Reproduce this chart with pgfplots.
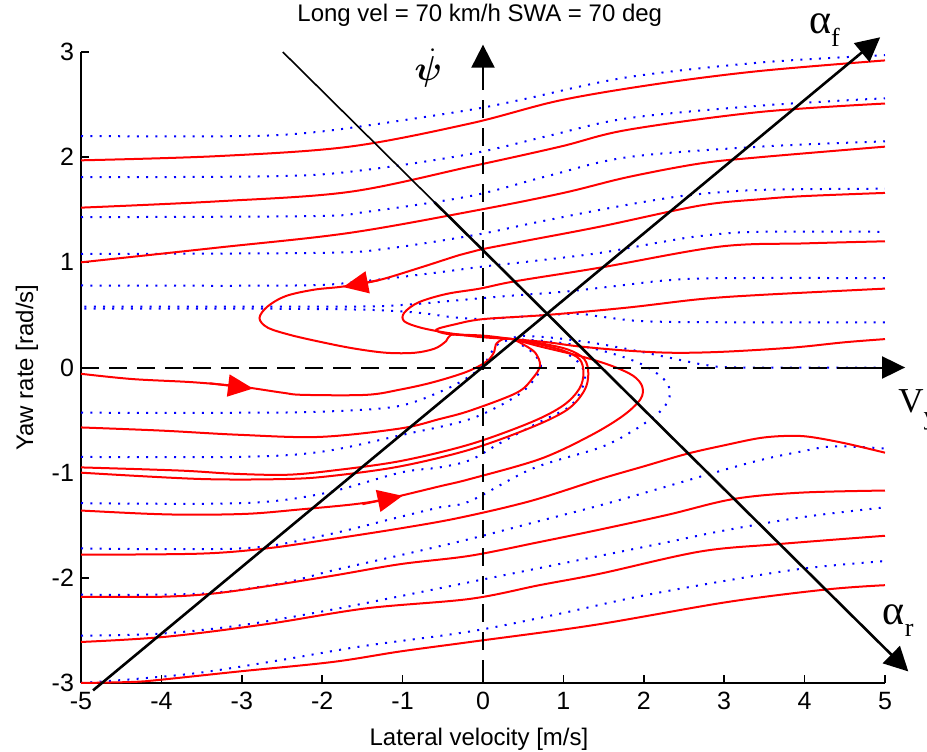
\documentclass[border=0pt]{standalone}
\usepackage{pgfplots}
\pgfplotsset{compat=1.18}
\usetikzlibrary{arrows.meta}
\usepackage{bm}
\usepackage{fontspec}
\setmainfont{Liberation Sans}
\newfontfamily\symfont{Liberation Serif}

% red: nonlinear model trajectories, blue dotted: reference model trajectories
\pgfplotsset{
  fwd/.style={red, line width=1pt, smooth, tension=0.55},
  bwd/.style={blue, line width=1pt, dash pattern=on 1pt off 3.65pt, smooth, tension=0.55},
  flowarrow/.style={red, line width=1pt, -{Triangle[length=12.5pt,width=11pt]}},
  bigarrow/.style={black, line width=1.3pt, -{Triangle[length=12pt,width=12pt]}},
}

\begin{document}
\begin{tikzpicture}
\begin{axis}[
  name=ax, at={(0,0)}, anchor=south west,
  scale only axis, width=402pt, height=315.5pt,
  xmin=-5, xmax=5, ymin=-3, ymax=3,
  axis lines*=left,
  axis line style={line width=0.75pt},
  xtick={-5,-4,...,5}, ytick={-3,-2,...,3},
  tick align=inside, major tick length=4pt,
  tick style={black, line width=0.75pt},
  /pgf/number format/assume math mode=true,
  ticklabel style={font=\fontsize{12.5}{14}\selectfont},
  xticklabel style={yshift=-1pt},
  title={Long vel = 70 km/h SWA = 70 deg},
  title style={at={(axis description cs:0.496,1.0301)}, anchor=base, inner sep=0pt, font=\fontsize{12}{14}\selectfont},
  xlabel={Lateral velocity [m/s]},
  xlabel style={at={(axis description cs:0.495,-0.0983)}, anchor=base, inner sep=0pt, font=\fontsize{12}{14}\selectfont},
  ylabel={Yaw rate [rad/s]},
  ylabel style={at={(axis description cs:-0.0597,0.5)}, anchor=base, inner sep=0pt, font=\fontsize{12}{14}\selectfont},
  clip=false,
]

% ---------------- blue dotted trajectories ----------------
\addplot[bwd] coordinates {(-5,2.2) (-3,2.2) (-2.2,2.23) (-1.45,2.3) (-0.16,2.45) (0.5,2.55) (1.8,2.76) (3.45,2.9) (5,2.97)};
\addplot[bwd] coordinates {(-5,1.81) (-2.5,1.82) (-1.45,1.88) (-0.16,2.03) (0.8,2.2) (1.8,2.37) (3.45,2.49) (5,2.56)};
\addplot[bwd] coordinates {(-5,1.43) (-2.1,1.44) (-1.45,1.48) (-0.16,1.63) (0.8,1.82) (1.8,2.0) (3.45,2.1) (5,2.15)};
\addplot[bwd] coordinates {(-5,1.08) (-2,1.09) (-1.2,1.13) (-0.1,1.26) (0.6,1.37) (1.46,1.5) (2.2,1.6) (2.7,1.65) (3.5,1.69) (5,1.7)};
\addplot[bwd] coordinates {(-5,0.78) (-2.3,0.78) (-1.5,0.82) (-0.6,0.9) (0,0.96) (0.6,1.01) (1.46,1.09) (2.2,1.19) (2.7,1.25) (3.4,1.29) (5,1.29)};
\addplot[bwd] coordinates {(5,0.85) (3,0.85) (2.3,0.83) (1.6,0.77) (1,0.72) (0.3,0.68) (-0.3,0.64) (-0.9,0.6) (-1.5,0.58) (-3,0.58) (-5,0.58)};
\addplot[bwd] coordinates {(5,0.43) (3,0.43) (2,0.44) (1.5,0.48) (1.2,0.51) (0.8,0.5) (0.4,0.48) (0,0.46) (-0.4,0.48) (-0.8,0.52) (-1.5,0.55) (-3,0.56) (-5,0.56)};
\addplot[bwd] coordinates {(5,0.0) (3.2,0.0) (2.8,0.02) (2.4,0.08) (1.9,0.16) (1.4,0.23) (0.9,0.28) (0.5,0.3) (0.37,0.28)};
\addplot[bwd] coordinates {(-5,-0.43) (-3,-0.43) (-2,-0.42) (-1.07,-0.37) (-0.5,-0.22) (-0.16,-0.08) (0.02,0.04) (0.1,0.14) (0.2,0.23) (0.37,0.27)};
\addplot[bwd] coordinates {(-5,-0.85) (-3,-0.85) (-2,-0.8) (-1,-0.64) (-0.16,-0.49) (0.42,-0.27) (0.65,-0.1) (0.72,0.02) (0.62,0.14) (0.45,0.23) (0.37,0.27)};
\addplot[bwd] coordinates {(-5,-1.29) (-3,-1.29) (-2,-1.2) (-1.03,-1.0) (-0.54,-0.95) (-0.16,-0.88) (0.21,-0.72) (0.7,-0.52) (1.08,-0.37) (1.23,-0.2) (1.27,-0.08) (1.2,0.04) (1.0,0.15) (0.7,0.23) (0.37,0.27)};
\addplot[bwd] coordinates {(-5,-1.72) (-3,-1.72) (-2,-1.6) (-1.03,-1.42) (-0.54,-1.33) (-0.16,-1.27) (0.62,-0.96) (1.46,-0.76) (1.87,-0.6) (2.12,-0.47) (2.24,-0.39) (2.32,-0.28) (2.3,-0.16) (2.17,-0.06) (1.95,0.04) (1.62,0.13) (1.25,0.2) (0.8,0.25) (0.37,0.27)};
\addplot[bwd] coordinates {(-5,-2.16) (-3.5,-2.15) (-2.5,-2.05) (-1.87,-1.93) (-1,-1.78) (-0.16,-1.63) (0.7,-1.46) (1.46,-1.31) (2.2,-1.15) (2.83,-1.01) (3.45,-0.88) (3.95,-0.8) (4.36,-0.75) (5,-0.77)};
\addplot[bwd] coordinates {(-5,-2.55) (-4,-2.53) (-3,-2.45) (-2,-2.32) (-1,-2.17) (-0.16,-2.04) (1.46,-1.79) (2.3,-1.66) (3,-1.55) (4,-1.42) (5,-1.33)};
\addplot[bwd] coordinates {(-5,-3.0) (-4.3,-2.96) (-3.5,-2.9) (-2.5,-2.78) (-1.5,-2.65) (-0.16,-2.51) (0.9,-2.35) (1.92,-2.18) (3,-2.03) (4,-1.91) (5,-1.84)};

% ---------------- red trajectories ----------------
% upper family, left to right
\addplot[fwd] coordinates {(-5,1.97) (-3.3,2.01) (-1.66,2.1) (-0.16,2.32) (0.96,2.54) (2.2,2.7) (3.45,2.82) (5,2.92)};
\addplot[fwd] coordinates {(-5,1.52) (-3.3,1.58) (-1.66,1.67) (-0.16,1.91) (0.96,2.1) (1.8,2.26) (3.45,2.43) (5,2.51)};
\addplot[fwd] coordinates {(-5,1.0) (-3.3,1.14) (-1.66,1.28) (-0.04,1.5) (1.0,1.66) (1.8,1.81) (2.7,1.94) (3.45,2.0) (5,2.1)};
% spiralling into the equilibrium
\addplot[fwd] coordinates {(5,1.66) (4,1.63) (3.45,1.6) (2.7,1.54) (1.46,1.34) (0.5,1.2) (-0.04,1.12) (-0.29,1.07) (-0.78,0.95) (-1.3,0.83) (-1.74,0.77) (-2.1,0.74) (-2.45,0.68) (-2.68,0.58) (-2.78,0.47) (-2.68,0.38) (-2.4,0.31) (-2.0,0.24) (-1.6,0.18) (-1.2,0.14) (-0.85,0.14) (-0.6,0.18) (-0.46,0.25) (-0.4,0.31) (-0.2,0.31) (0.05,0.3) (0.37,0.27)};
\addplot[fwd] coordinates {(5,1.2) (4,1.18) (2.95,1.15) (1.46,0.95) (0.4,0.82) (-0.04,0.75) (-0.45,0.7) (-0.8,0.62) (-0.98,0.52) (-0.98,0.44) (-0.78,0.38) (-0.45,0.33) (-0.04,0.29) (0.37,0.27)};
\addplot[fwd] coordinates {(5,0.75) (3.45,0.69) (2.7,0.65) (1.8,0.57) (0.8,0.5) (0,0.46) (-0.35,0.41) (-0.58,0.36) (-0.45,0.32) (-0.1,0.3) (0.37,0.27)};
\addplot[fwd] coordinates {(5,0.27) (4.5,0.24) (3.86,0.19) (3,0.15) (2.37,0.14) (1.8,0.16) (1.2,0.2) (0.8,0.24) (0.37,0.27)};
% lower family, left to right
\addplot[fwd] coordinates {(-5,-0.06) (-4.36,-0.11) (-3.61,-0.14) (-3.03,-0.18) (-2.49,-0.24) (-2.24,-0.26) (-1.45,-0.26) (-1.03,-0.21) (-0.62,-0.14) (-0.2,-0.04) (0.05,0.06) (0.14,0.15) (0.16,0.22) (0.25,0.27) (0.37,0.27)};
\addplot[fwd] coordinates {(-5,-0.57) (-4,-0.6) (-3.03,-0.64) (-2.03,-0.66) (-1.03,-0.58) (-0.54,-0.49) (-0.16,-0.41) (0.42,-0.24) (0.62,-0.1) (0.71,0.02) (0.65,0.14) (0.5,0.22) (0.37,0.27)};
\addplot[fwd] coordinates {(-5,-0.95) (-3.77,-0.98) (-3.11,-1.01) (-2.44,-1.02) (-1.87,-0.98) (-1.03,-0.89) (-0.16,-0.73) (0.6,-0.52) (1.0,-0.36) (1.2,-0.2) (1.25,-0.05) (1.2,0.08) (1.0,0.16) (0.7,0.22) (0.37,0.27)};
\addplot[fwd] coordinates {(-5,-1.0) (-3.52,-1.06) (-2.44,-1.06) (-1.87,-1.03) (-1.03,-0.94) (-0.16,-0.78) (0.6,-0.57) (1.05,-0.4) (1.26,-0.22) (1.31,-0.06) (1.26,0.08) (1.06,0.17) (0.72,0.23) (0.37,0.27)};
\addplot[fwd] coordinates {(-5,-1.36) (-4.2,-1.39) (-3.61,-1.4) (-2.9,-1.39) (-2.28,-1.35) (-1.6,-1.3) (-1.2,-1.25) (-0.54,-1.13) (-0.16,-1.06) (0.71,-0.87) (1.33,-0.65) (1.74,-0.46) (1.96,-0.3) (1.98,-0.18) (1.87,-0.08) (1.62,0.01) (1.25,0.1) (0.71,0.2) (0.37,0.27)};
\addplot[fwd] coordinates {(-5,-1.78) (-3.52,-1.77) (-2.69,-1.72) (-1.87,-1.63) (-1.03,-1.53) (-0.3,-1.43) (0.59,-1.27) (1.46,-1.06) (2.0,-0.94) (2.54,-0.82) (3.0,-0.74) (3.45,-0.67) (3.8,-0.65) (4.07,-0.66) (4.5,-0.72) (5,-0.81)};
\addplot[fwd] coordinates {(-5,-2.18) (-4,-2.18) (-3.36,-2.15) (-2.69,-2.08) (-1.87,-1.98) (-1.03,-1.87) (-0.16,-1.79) (0.7,-1.66) (1.46,-1.54) (2.3,-1.4) (3.12,-1.25) (3.95,-1.19) (5,-1.17)};
\addplot[fwd] coordinates {(-5,-2.61) (-3.94,-2.56) (-2.69,-2.44) (-1.45,-2.29) (-0.16,-2.2) (0.7,-2.07) (1.46,-1.96) (2.7,-1.75) (3.66,-1.68) (5,-1.6)};
\addplot[fwd] coordinates {(-5,-3.0) (-4.36,-2.99) (-4.02,-2.97) (-3.03,-2.89) (-1.87,-2.8) (-1.03,-2.7) (-0.16,-2.61) (1.37,-2.45) (3.04,-2.23) (4.28,-2.11) (5,-2.07)};

% flow direction markers
\addplot[flowarrow] coordinates {(-1.3,0.83) (-1.74,0.765)};
\addplot[flowarrow] coordinates {(-3.4,-0.15) (-2.86,-0.2)};
\addplot[flowarrow] coordinates {(-1.5,-1.3) (-1.0,-1.22)};

% ---------------- state axes (dashed) ----------------
\addplot[black, line width=1pt, dash pattern=on 9pt off 5pt] coordinates {(-5,0) (4.45,0)};
\addplot[black, line width=1pt, -{Triangle[length=11.5pt,width=11pt]}] coordinates {(4.45,0) (5.25,0)};
\addplot[black, line width=1pt, dash pattern=on 9pt off 5pt] coordinates {(0,-2.95) (0,2.65)};
\addplot[black, line width=1pt, -{Triangle[length=11.5pt,width=11.5pt]}] coordinates {(0,2.65) (0,3.07)};

% ---------------- slip angle directions ----------------
\addplot[bigarrow] coordinates {(-4.85,-3.07) (4.94,3.14)};
\addplot[black, line width=0.8pt] coordinates {(-2.49,3.0) (-0.6,1.569)};
\addplot[bigarrow] coordinates {(-0.6,1.569) (5.29,-2.89)};

% labels
\node[anchor=center, inner sep=0pt, font=\fontsize{19}{19}\selectfont] at (axis cs:-0.68,2.85) {$\bm{\dot{\psi}}$};
\node[anchor=base west, inner sep=0pt, font=\symfont\fontsize{21}{21}\selectfont] at (axis cs:4.05,3.18) {α\raisebox{-6.5pt}{\fontsize{13}{13}\selectfont f}};
\node[anchor=base west, inner sep=0pt, font=\symfont\fontsize{21}{21}\selectfont] at (axis cs:4.97,-2.44) {α\raisebox{-6pt}{\fontsize{13}{13}\selectfont r}};
\node[anchor=base west, inner sep=0pt, font=\symfont\fontsize{17.5}{17.5}\selectfont] at (axis cs:5.16,-0.43) {V\raisebox{-6pt}{\fontsize{13}{13}\selectfont y}};
\end{axis}
\pgfresetboundingbox
\path[use as bounding box] (-40.5pt,-34pt) rectangle (423pt,341.5pt);
\end{tikzpicture}
\end{document}
